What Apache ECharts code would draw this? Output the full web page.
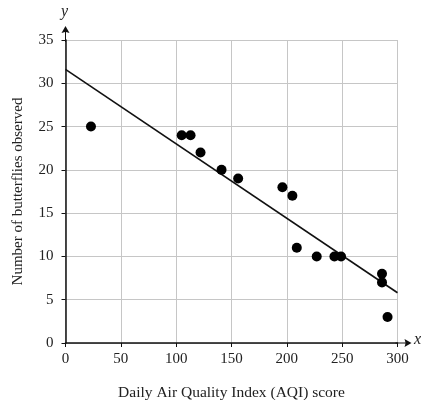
<!DOCTYPE html>
<html>
<head>
<meta charset="utf-8">
<script src="https://cdn.jsdelivr.net/npm/echarts@6/dist/echarts.min.js"></script>
<style>
  html, body { margin: 0; padding: 0; background: #fff; }
  #chart { width: 424px; height: 400px; }
</style>
</head>
<body>
<div id="chart"></div>
<script>
// observed points (AQI score, butterflies)
const aqiScores = [23, 105, 113, 122, 141, 156, 196, 205, 209, 227, 243, 249, 286, 286, 291];
const butterflies = [25, 24, 24, 22, 20, 19, 18, 17, 11, 10, 10, 10, 8, 7, 3];

// line of best fit end points
const fitX = [0, 300];
const fitY = [31.6, 5.8];

const xTicks = [0, 50, 100, 150, 200, 250, 300];
const yTicks = [0, 5, 10, 15, 20, 25, 30, 35];

const FONT = "Liberation Serif";

// arrow head with a short stem, tip pointing up (same as the built-in arrow)
const ARROW = "path://M4,0 L8,7 L4.5,6 L4.5,16 L3.5,16 L3.5,6 L0,7 Z";

const points = aqiScores.map((x, i) => [x, butterflies[i]]);
const fitLine = fitX.map((x, i) => [x, fitY[i]]);

const chart = echarts.init(document.getElementById("chart"));

const axisLine = {
  show: true,
  symbol: ["none", ARROW],
  symbolSize: [8, 16],
  symbolOffset: [0, 6],
  lineStyle: {color: "#111", width: 1.5},
};

chart.setOption({
  animation: false,
  backgroundColor: "#fff",
  textStyle: {fontFamily: FONT},
  grid: {left: 65.5, right: 26.5, top: 40, bottom: 57, outerBoundsMode: "none", containLabel: false},
  xAxis: {
    type: "value",
    min: xTicks[0],
    max: xTicks[xTicks.length - 1],
    interval: 50,
    name: "Daily Air Quality Index (AQI) score",
    nameLocation: "middle",
    nameGap: 42,
    nameTextStyle: {fontFamily: FONT, fontSize: 15.5, color: "#222"},
    axisLine: axisLine,
    axisTick: {show: true, length: 4, lineStyle: {color: "#111"}},
    axisLabel: {fontFamily: FONT, fontSize: 15, color: "#222", margin: 9},
    splitLine: {show: true, lineStyle: {color: "#c6c6c6", width: 1}},
  },
  yAxis: {
    type: "value",
    min: yTicks[0],
    max: yTicks[yTicks.length - 1],
    interval: 5,
    name: "Number of butterflies observed",
    nameLocation: "middle",
    nameGap: 40,
    nameTextStyle: {fontFamily: FONT, fontSize: 15, color: "#222"},
    axisLine: axisLine,
    axisTick: {show: true, length: 4, lineStyle: {color: "#111"}},
    axisLabel: {fontFamily: FONT, fontSize: 15, color: "#222", margin: 12},
    splitLine: {show: true, lineStyle: {color: "#c6c6c6", width: 1}},
  },
  graphic: [
    {
      type: "text",
      left: 61,
      top: 4,
      style: {text: "y", font: "italic 16px " + FONT, fill: "#222"},
    },
    {
      type: "text",
      left: 414,
      top: 332,
      style: {text: "x", font: "italic 16px " + FONT, fill: "#222"},
    },
  ],
  series: [
    {
      type: "line",
      data: fitLine,
      symbol: "none",
      lineStyle: {color: "#111", width: 1.6},
      z: 3,
    },
    {
      type: "scatter",
      data: points,
      symbolSize: 10,
      itemStyle: {color: "#000", opacity: 1},
      z: 4,
    },
  ],
});
</script>
</body>
</html>
